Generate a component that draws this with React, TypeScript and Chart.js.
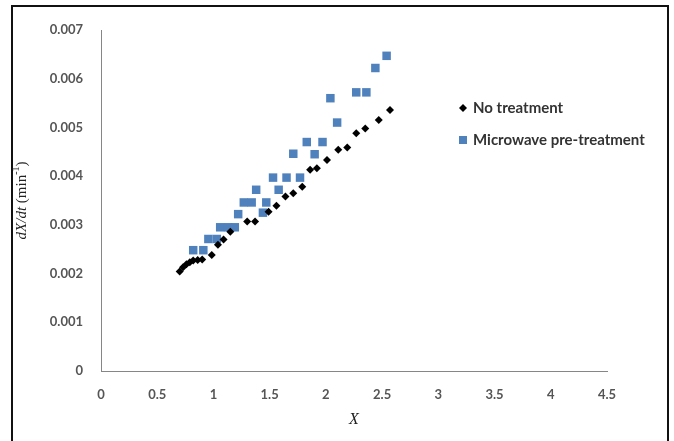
import React, { useEffect, useRef } from "react";
import { Chart, registerables } from "chart.js";

Chart.register(...registerables);

// No treatment: X and dX/dt (min^-1)
const noTreatX = [0.70, 0.73, 0.76, 0.79, 0.82, 0.86, 0.90, 0.985, 1.04, 1.09, 1.15, 1.30, 1.37, 1.49, 1.56, 1.64, 1.71, 1.79, 1.86, 1.92, 2.01, 2.11, 2.19, 2.27, 2.35, 2.47, 2.57];
const noTreatY = [0.00204, 0.00213, 0.00219, 0.00223, 0.00227, 0.00228, 0.00229, 0.00238, 0.00259, 0.0027, 0.00286, 0.00307, 0.00307, 0.00327, 0.00339, 0.00358, 0.00365, 0.00378, 0.00413, 0.00416, 0.00433, 0.00454, 0.00459, 0.00488, 0.00498, 0.00515, 0.00536];

// Microwave pre-treatment
const microX = [0.82, 0.91, 0.955, 1.03, 1.06, 1.13, 1.19, 1.22, 1.27, 1.34, 1.38, 1.44, 1.47, 1.53, 1.58, 1.65, 1.77, 1.71, 1.83, 1.90, 1.97, 2.04, 2.10, 2.27, 2.36, 2.44, 2.54];
const microY = [0.00248, 0.00248, 0.00271, 0.00271, 0.00295, 0.00295, 0.00295, 0.00322, 0.00346, 0.00346, 0.00372, 0.00325, 0.00346, 0.00397, 0.00372, 0.00397, 0.00397, 0.00446, 0.0047, 0.00445, 0.0047, 0.0056, 0.0051, 0.00572, 0.00572, 0.00622, 0.00647];

const seriesNames = ["No treatment", "Microwave pre-treatment"];
const xTitle = "X";

const TICK_FONT = { family: "Lato, 'Open Sans', sans-serif", size: 13, weight: "bold" as const };
const TICK_COLOR = "#555555";

export default function App() {
  const ref = useRef<HTMLCanvasElement | null>(null);

  useEffect(() => {
    if (!ref.current) return;
    const toPts = (xs: number[], ys: number[]) => xs.map((x, i) => ({ x, y: ys[i] }));

    const framePlugin = {
      id: "frameAndTitles",
      beforeDraw(chart: any) {
        const ctx = chart.ctx;
        ctx.save();
        ctx.fillStyle = "#ffffff";
        ctx.fillRect(0, 0, chart.width, chart.height);
        ctx.restore();
      },
      afterDraw(chart: any) {
        const ctx = chart.ctx;
        const area = chart.chartArea;
        ctx.save();
        // outer frame
        ctx.strokeStyle = "#111111";
        ctx.lineWidth = 2;
        ctx.strokeRect(12, 6, 656, 470);

        // y title (rotated, mixed italic / regular with superscript)
        const cy = (area.top + area.bottom) / 2;
        const cx = 22;
        const size = 15;
        const italic = `italic ${size}px 'Liberation Serif', 'DejaVu Serif', serif`;
        const regular = `${size}px 'Liberation Serif', 'DejaVu Serif', serif`;
        const sup = `${Math.round(size * 0.65)}px 'Liberation Serif', 'DejaVu Serif', serif`;
        const parts = [
          { t: "dX/dt", f: italic, dy: 0 },
          { t: " (min", f: regular, dy: 0 },
          { t: "-1", f: sup, dy: -size * 0.4 },
          { t: ")", f: regular, dy: 0 },
        ];
        let total = 0;
        const widths = parts.map((p) => {
          ctx.font = p.f;
          const w = ctx.measureText(p.t).width;
          total += w;
          return w;
        });
        ctx.translate(cx, cy);
        ctx.rotate(-Math.PI / 2);
        ctx.fillStyle = "#222222";
        ctx.textBaseline = "middle";
        ctx.textAlign = "left";
        let x = -total / 2;
        parts.forEach((p, i) => {
          ctx.font = p.f;
          ctx.fillText(p.t, x, p.dy);
          x += widths[i];
        });
        ctx.setTransform(1, 0, 0, 1, 0, 0);

        // x title
        ctx.font = `italic 16px 'Liberation Serif', 'DejaVu Serif', serif`;
        ctx.textAlign = "center";
        ctx.textBaseline = "middle";
        ctx.fillText(xTitle, (area.left + area.right) / 2, 420);

        // legend inside plot
        const lx = 463;
        const rows = [108, 140];
        chart.data.datasets.forEach((ds: any, i: number) => {
          const y = rows[i];
          ctx.fillStyle = ds.backgroundColor;
          ctx.beginPath();
          if (ds.pointStyle === "rectRot") {
            const r = 4;
            ctx.moveTo(lx, y - r);
            ctx.lineTo(lx + r, y);
            ctx.lineTo(lx, y + r);
            ctx.lineTo(lx - r, y);
            ctx.closePath();
            ctx.fill();
          } else {
            ctx.fillRect(lx - 4, y - 4, 8, 8);
          }
          ctx.fillStyle = "#333333";
          ctx.font = `bold 15px Lato, 'Open Sans', sans-serif`;
          ctx.textAlign = "left";
          ctx.textBaseline = "middle";
          ctx.fillText(ds.label, lx + 10, y);
        });
        ctx.restore();
      },
    };

    const chart = new Chart(ref.current, {
      type: "scatter",
      data: {
        datasets: [
          {
            label: seriesNames[0],
            data: toPts(noTreatX, noTreatY),
            pointStyle: "rectRot",
            pointRadius: 4,
            backgroundColor: "#000000",
            borderColor: "#000000",
            borderWidth: 0,
          },
          {
            label: seriesNames[1],
            data: toPts(microX, microY),
            pointStyle: "rect",
            pointRadius: 6,
            backgroundColor: "#4F81BD",
            borderColor: "#4F81BD",
            borderWidth: 0,
          },
        ],
      },
      options: {
        responsive: false,
        animation: false,
        devicePixelRatio: 1,
        layout: { padding: { left: 0, top: 30, right: 67, bottom: 0 } },
        plugins: {
          legend: { display: false },
          tooltip: { enabled: false },
        },
        scales: {
          x: {
            type: "linear",
            min: 0,
            max: 4.5,
            afterFit: (s: any) => {
              s.height = 70;
            },
            ticks: {
              stepSize: 0.5,
              font: TICK_FONT,
              color: TICK_COLOR,
              padding: 16,
              maxRotation: 0,
              autoSkip: false,
              callback: (v: any) => String(Math.round(Number(v) * 10) / 10),
            },
            grid: { display: false, drawTicks: false },
            border: { display: true, color: "#868686", width: 1 },
          },
          y: {
            type: "linear",
            min: 0,
            max: 0.007,
            afterFit: (s: any) => {
              s.width = 101;
            },
            ticks: {
              stepSize: 0.001,
              font: TICK_FONT,
              color: TICK_COLOR,
              padding: 18,
              callback: (v: any) => (Math.abs(v) < 1e-9 ? "0" : Number(v).toFixed(3)),
            },
            grid: { display: false, drawTicks: false },
            border: { display: true, color: "#868686", width: 1 },
          },
        },
      },
      plugins: [framePlugin],
    });
    return () => chart.destroy();
  }, []);

  return (
    <div style={{ position: "absolute", left: 0, top: 0, width: 674, height: 441 }}>
      <canvas ref={ref} width={674} height={441} style={{ display: "block" }} />
    </div>
  );
}
